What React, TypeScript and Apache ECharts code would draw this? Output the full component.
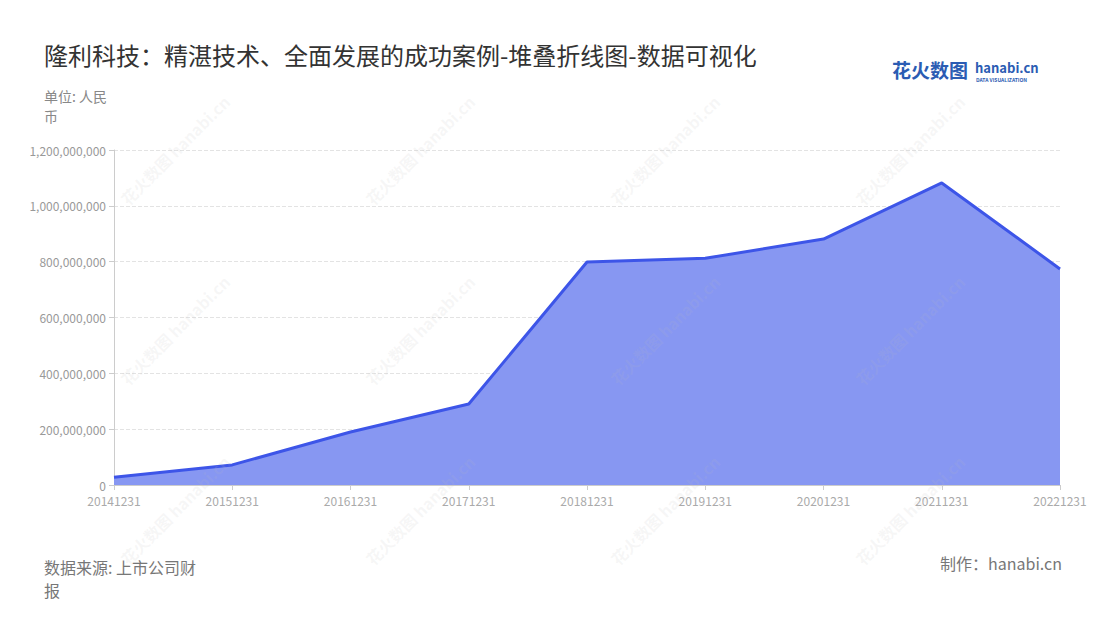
import React, { useEffect, useRef } from "react";
import * as echarts from "echarts";

const categories = ["20141231", "20151231", "20161231", "20171231", "20181231", "20191231", "20201231", "20211231", "20221231"];
const values = [28000000, 72000000, 190000000, 290000000, 799000000, 812000000, 881000000, 1082000000, 774000000];
const seriesName = "营业收入";
const titleText = "隆利科技：精湛技术、全面发展的成功案例-堆叠折线图-数据可视化";
const unitText = "单位: 人民\n币";
const sourceText = "数据来源: 上市公司财\n报";
const makerText = "制作：hanabi.cn";

const FONT = "'Noto Sans CJK SC', 'Noto Sans', sans-serif";

export default function App() {
  const ref = useRef<HTMLDivElement>(null);
  useEffect(() => {
    if (!ref.current) return;
    const chart = echarts.init(ref.current, null, { renderer: "svg" });
    const wmCols = [175, 420, 665, 910];
    const wmRows = [150, 330, 510];
    const watermarks: any[] = [];
    wmCols.forEach((x) =>
      wmRows.forEach((y) => {
        watermarks.push({
          type: "text",
          x,
          y,
          rotation: Math.PI / 4,
          silent: true,
          z: 100,
          style: {
            text: "花火数图 hanabi.cn",
            fill: "rgba(190,190,190,0.13)",
            font: `bold 16px ${FONT}`,
            align: "center",
            verticalAlign: "middle",
          },
        });
      })
    );
    chart.setOption({
      animation: false,
      textStyle: { fontFamily: FONT },
      title: {
        text: titleText,
        left: 39,
        top: 37,
        textStyle: { fontSize: 24, fontWeight: "normal", color: "#333", fontFamily: FONT },
      },
      grid: { left: 114, right: 40, top: 150, bottom: 135, containLabel: false },
      xAxis: {
        type: "category",
        data: categories,
        boundaryGap: false,
        axisLine: { lineStyle: { color: "#ccc" } },
        axisTick: { show: true, lineStyle: { color: "#ccc" } },
        axisLabel: { color: "#aaa", fontSize: 12, margin: 9, interval: 0, fontFamily: FONT },
      },
      yAxis: {
        type: "value",
        min: 0,
        max: 1200000000,
        interval: 200000000,
        axisLine: { show: true, lineStyle: { color: "#ccc" } },
        axisTick: { show: true, lineStyle: { color: "#ccc" } },
        axisLabel: {
          color: "#999",
          fontSize: 12,
          fontFamily: FONT,
          formatter: (v: number) => v.toLocaleString("en-US"),
        },
        splitLine: { lineStyle: { color: "#e3e3e3", type: "dashed" } },
      },
      series: [
        {
          name: seriesName,
          type: "line",
          data: values,
          stack: "total",
          symbol: "none",
          lineStyle: { color: "#3d55e8", width: 3 },
          itemStyle: { color: "#3d55e8" },
          areaStyle: { color: "#8797f2", opacity: 1 },
        },
      ],
      graphic: [
        {
          type: "text",
          left: 44,
          top: 86,
          style: { text: unitText, fill: "#888", font: `14px ${FONT}`, lineHeight: 20 },
        },
        {
          type: "text",
          left: 44,
          top: 555,
          style: { text: sourceText, fill: "#777", font: `16px ${FONT}`, lineHeight: 23 },
        },
        {
          type: "text",
          right: 38,
          top: 555,
          style: { text: makerText, fill: "#777", font: `16px ${FONT}` },
        },
        {
          type: "text",
          left: 892,
          top: 60,
          style: { text: "花火数图", fill: "#2b5cb3", font: `bold 19px ${FONT}` },
        },
        {
          type: "text",
          left: 975,
          top: 61,
          style: { text: "hanabi.cn", fill: "#2b5cb3", font: `bold 13px ${FONT}` },
        },
        {
          type: "text",
          left: 976,
          top: 77,
          style: { text: "DATA VISUALIZATION", fill: "#2b5cb3", font: `bold 5px ${FONT}` },
        },
        ...watermarks,
      ],
    });
    return () => chart.dispose();
  }, []);
  return <div ref={ref} style={{ position: "absolute", left: 0, top: 0, width: 1100, height: 620 }} />;
}
